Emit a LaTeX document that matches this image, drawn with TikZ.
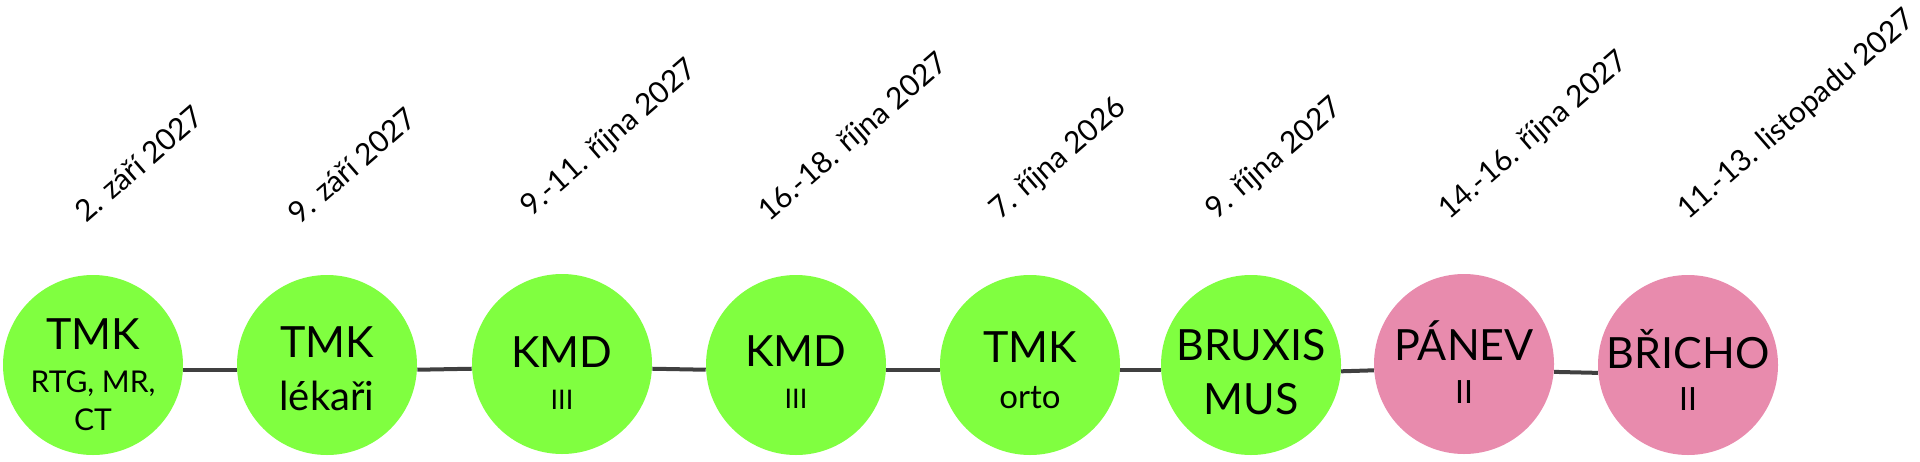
\documentclass[tikz,border=0pt]{standalone}
\usepackage{fontspec}
\setmainfont{Lato}
\usetikzlibrary{calc}
\definecolor{gr}{HTML}{80FF40}
\definecolor{pk}{HTML}{E88BAD}
\definecolor{ln}{HTML}{404040}
\begin{document}
\begin{tikzpicture}[x=0.5pt,y=-0.5pt,
  greenc/.style={circle,fill=gr,minimum size=90pt,inner sep=0pt},
  pinkc/.style={circle,fill=pk,minimum size=90pt,inner sep=0pt},
  big/.style={font=\fontsize{21.5}{26}\selectfont,anchor=base,inner sep=0pt},
  subA/.style={font=\fontsize{15}{18}\selectfont,anchor=base,inner sep=0pt},
  subB/.style={font=\fontsize{20}{24}\selectfont,anchor=base,inner sep=0pt},
  subC/.style={font=\fontsize{13.5}{16}\selectfont,anchor=base,inner sep=0pt},
  subD/.style={font=\fontsize{16.5}{20}\selectfont,anchor=base,inner sep=0pt},
  subE/.style={font=\fontsize{16}{19}\selectfont,anchor=base,inner sep=0pt},
  datelab/.style={font=\fontsize{15}{18}\selectfont,anchor=base west,rotate=41,inner sep=0pt},
  conn/.style={draw=ln,line width=2pt}]
\useasboundingbox (0,0) rectangle (1920,461);

% circles
\node[greenc] (c1) at (93,365) {};
\node[greenc] (c2) at (327,365) {};
\node[greenc] (c3) at (562,364) {};
\node[greenc] (c4) at (796,365) {};
\node[greenc] (c5) at (1030,365) {};
\node[greenc] (c6) at (1251,365) {};
\node[pinkc] (c7) at (1464,364) {};
\node[pinkc] (c8) at (1688,365) {};

% connectors
\draw[conn] (c1.-3) -- (c2.-177);
\draw[conn] (c2.-3) -- (c3.-177);
\draw[conn] (c3.-3) -- (c4.-177);
\draw[conn] (c4.-3) -- (c5.-177);
\draw[conn] (c5.-3) -- (c6.-177);
\draw[conn] (c6.-4) -- (c7.-176);
\draw[conn] (c7.-5) -- (c8.-175);

% circle texts
\node[big]  (t1a) at ($(c1.center)+(0,-16)$) {TMK};
\node[subA] (t1b) at ($(c1.center)+(0,27)$) {RTG, MR,};
\node[subA] (t1c) at ($(c1.center)+(0,65)$) {CT};
\node[big]  (t2a) at ($(c2.center)+(0,-8)$) {TMK};
\node[subB] (t2b) at ($(c2.center)+(0,45)$) {lékaři};
\node[big]  (t3a) at ($(c3.center)+(0,3)$) {KMD};
\node[subC] (t3b) at ($(c3.center)+(0,45)$) {III};
\node[big]  (t4a) at ($(c4.center)+(0,1)$) {KMD};
\node[subC] (t4b) at ($(c4.center)+(0,43)$) {III};
\node[big]  (t5a) at ($(c5.center)+(0,-3)$) {TMK};
\node[subD] (t5b) at ($(c5.center)+(0,43)$) {orto};
\node[big]  (t6a) at ($(c6.center)+(0,-5)$) {BRUXIS};
\node[big]  (t6b) at ($(c6.center)+(0,49)$) {MUS};
\node[big]  (t7a) at ($(c7.center)+(0,-4)$) {PÁNEV};
\node[subE] (t7b) at ($(c7.center)+(0,39)$) {II};
\node[big]  (t8a) at ($(c8.center)+(0,3)$) {BŘICHO};
\node[subE] (t8b) at ($(c8.center)+(0,45)$) {II};

% dates
\node[datelab] (d1) at (86,224) {2. září 2027};
\node[datelab] (d2) at (299,226) {9. září 2027};
\node[datelab] (d3) at (531,218) {9.-11. října 2027};
\node[datelab] (d4) at (769,223) {16.-18. října 2027};
\node[datelab] (d5) at (1000,221) {7. října 2026};
\node[datelab] (d6) at (1216,221) {9. října 2027};
\node[datelab] (d7) at (1449,221) {14.-16. října 2027};
\node[datelab] (d8) at (1688,221) {11.-13. listopadu 2027};
\end{tikzpicture}
\end{document}
